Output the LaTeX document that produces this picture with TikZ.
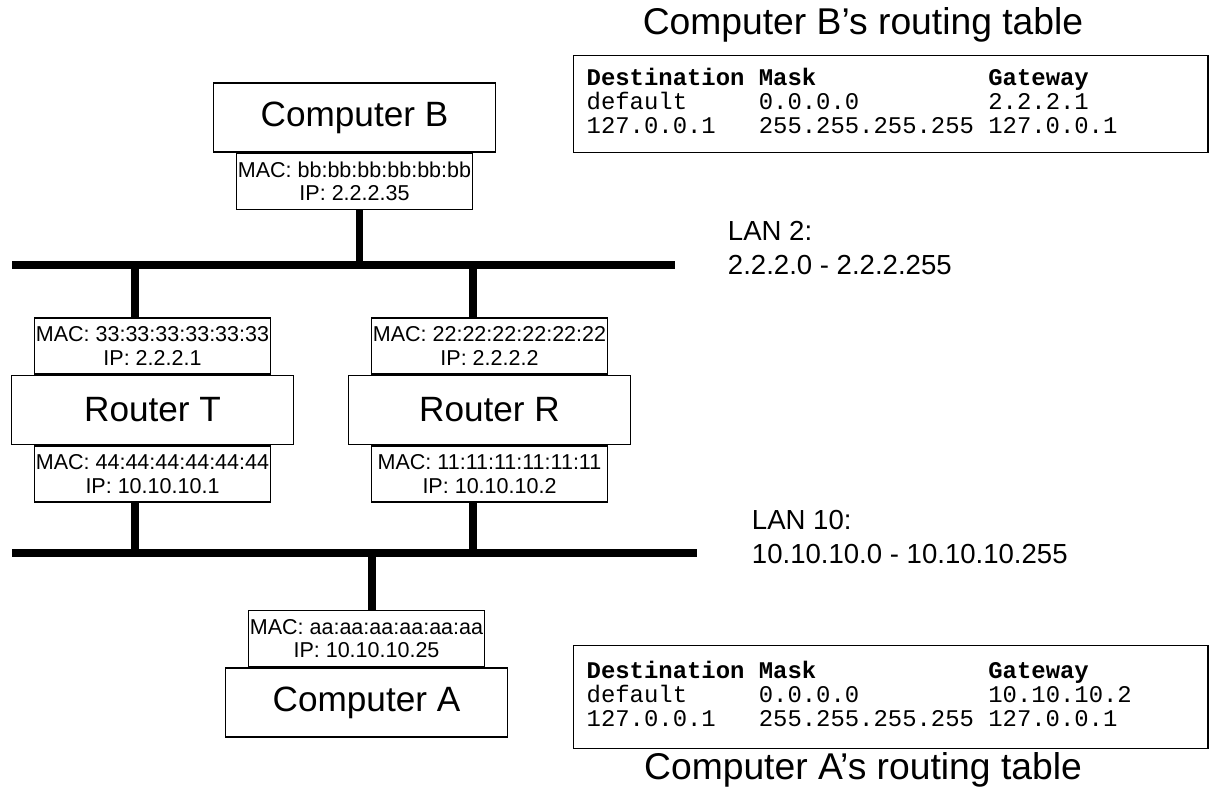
\documentclass[tikz,border=0pt]{standalone}
\usepackage{fontspec}
\setmainfont{Liberation Sans}
\setmonofont{Liberation Mono}
\usetikzlibrary{positioning}

\tikzset{
    hostbox/.style={draw, line width=1pt, minimum width=7.05cm, minimum height=1.72cm, inner sep=0pt, font=\fontsize{25}{30}\selectfont},
    macbox/.style={draw, line width=1pt, minimum width=5.9cm, minimum height=1.4cm, inner sep=0pt, align=center, font=\fontsize{15.3}{16.8}\selectfont},
    lanline/.style={line width=5.2pt},
    tablebox/.style={draw, line width=1pt, anchor=north west, text width=15.2cm, inner xsep=0.325cm, inner ysep=0pt, font=\ttfamily\fontsize{17}{16.9}\selectfont},
    lanlabel/.style={anchor=west, align=left, font=\fontsize{19.6}{23.5}\selectfont},
    tabletitle/.style={font=\fontsize{26.5}{30}\selectfont}
}

\begin{document}
\begin{tikzpicture}[x=0.025cm, y=-0.025cm]

    \useasboundingbox (0,0) rectangle (1211,795);

    % Hosts and routers
    \node[hostbox] (compB) at (354.5,117.5) {Computer B};
    \node[macbox, below=0pt of compB] (macB) {MAC: bb:bb:bb:bb:bb:bb\\IP: 2.2.2.35};

    \node[hostbox] (routerT) at (152.5,410) {Router T};
    \node[macbox, above=0pt of routerT] (macTtop) {MAC: 33:33:33:33:33:33\\IP: 2.2.2.1};
    \node[macbox, below=0pt of routerT] (macTbot) {MAC: 44:44:44:44:44:44\\IP: 10.10.10.1};

    \node[hostbox] (routerR) at (489.5,410) {Router R};
    \node[macbox, above=0pt of routerR] (macRtop) {MAC: 22:22:22:22:22:22\\IP: 2.2.2.2};
    \node[macbox, below=0pt of routerR] (macRbot) {MAC: 11:11:11:11:11:11\\IP: 10.10.10.2};

    \node[hostbox] (compA) at (366.5,702.5) {Computer A};
    \node[macbox, above=0pt of compA] (macA) {MAC: aa:aa:aa:aa:aa:aa\\IP: 10.10.10.25};

    % The two LANs
    \coordinate (lan2w) at (12,265);
    \coordinate (lan2e) at (675,265);
    \coordinate (lan10w) at (12,553);
    \coordinate (lan10e) at (697,553);
    \draw[lanline] (lan2w) -- (lan2e);
    \draw[lanline] (lan10w) -- (lan10e);

    \draw[lanline] ([xshift=0.125cm]macB.south) -- ([xshift=0.125cm]macB.south |- lan2w);
    \draw[lanline] ([xshift=-0.44cm]macTtop.north) -- ([xshift=-0.44cm]macTtop.north |- lan2w);
    \draw[lanline] ([xshift=-0.41cm]macRtop.north) -- ([xshift=-0.41cm]macRtop.north |- lan2w);
    \draw[lanline] ([xshift=-0.44cm]macTbot.south) -- ([xshift=-0.44cm]macTbot.south |- lan10w);
    \draw[lanline] ([xshift=-0.41cm]macRbot.south) -- ([xshift=-0.41cm]macRbot.south |- lan10w);
    \draw[lanline] ([xshift=0.14cm]macA.north) -- ([xshift=0.14cm]macA.north |- lan10w);

    \node[lanlabel] (lan2txt) at (723,248) {LAN 2:\\2.2.2.0 - 2.2.2.255};
    \node[lanlabel] (lan10txt) at (747,537) {LAN 10:\\10.10.10.0 - 10.10.10.255};

    % Routing tables
    \node[tabletitle] (titleB) at (863,25) {Computer B’s routing table};
    \node[tablebox, minimum height=2.425cm] (tableB) at (573,55) {%
        \begin{tabular}{@{}l@{\hspace{0.6em}}l@{\hspace{0.6em}}l@{}}
        \textbf{Destination} & \textbf{Mask} & \textbf{Gateway}\\
        default & 0.0.0.0 & 2.2.2.1\\
        127.0.0.1 & 255.255.255.255 & 127.0.0.1
        \end{tabular}};

    \node[tablebox, minimum height=2.575cm] (tableA) at (573,645) {%
        \begin{tabular}{@{}l@{\hspace{0.6em}}l@{\hspace{0.6em}}l@{}}
        \textbf{Destination} & \textbf{Mask} & \textbf{Gateway}\\
        default & 0.0.0.0 & 10.10.10.2\\
        127.0.0.1 & 255.255.255.255 & 127.0.0.1
        \end{tabular}};
    \node[tabletitle] (titleA) at (863,770) {Computer A’s routing table};

\end{tikzpicture}
\end{document}
